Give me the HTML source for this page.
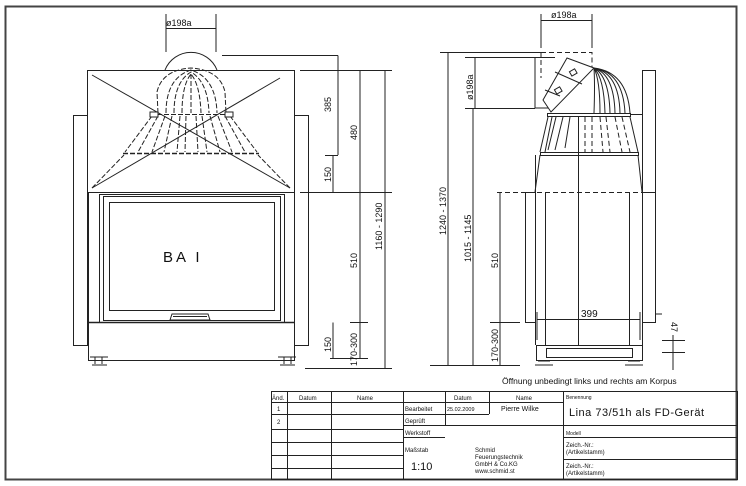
<!DOCTYPE html>
<html><head><meta charset="utf-8"><style>
html,body{margin:0;padding:0;background:#fff;}
svg{display:block;font-family:"Liberation Sans",sans-serif;}
.t{font-size:9px;fill:#111;}
.s{font-size:6px;fill:#111;}
</style></head><body>
<svg width="746" height="486" viewBox="0 0 746 486" xmlns="http://www.w3.org/2000/svg">
<g fill="none" stroke="#222" stroke-width="1">
<rect x="5.5" y="6.5" width="731" height="473" stroke-width="2" stroke="#444"/>

<!-- FRONT VIEW -->
<rect x="87.5" y="70.5" width="207" height="122"/>
<rect x="73.5" y="115.5" width="14" height="230"/>
<rect x="294.5" y="115.5" width="14" height="230"/>
<rect x="88.5" y="192.5" width="206" height="168"/>
<rect x="99.5" y="194.5" width="185" height="128"/>
<rect x="103.5" y="196.5" width="177" height="124"/>
<rect x="109.5" y="202.5" width="165" height="108"/>
<line x1="88" y1="322.5" x2="294" y2="322.5" stroke-width="1.5"/>
<path d="M170 320 L172 314 L208 314 L210 320 Z"/>
<line x1="173" y1="316.5" x2="207" y2="316.5"/>
<path d="M90 357h18M95 357v7M102 357v7M92 365h15M278 357h18M284 357v7M291 357v7M280 365h15"/>
<line x1="92" y1="75" x2="290" y2="188"/>
<line x1="92" y1="188" x2="280" y2="78"/>
<path d="M165 70 A28 28 0 0 1 217 70"/>
<g stroke-dasharray="5,2">
<path d="M158 113 L157 92 Q162 70 191 68 Q220 70 225 92 L226 113"/>
<path d="M166 113 Q166 78 191 70 Q216 78 217 113"/>
<path d="M174 113 Q174 82 191 72 Q208 82 209 113"/>
<path d="M182 113 Q182 85 191 74 Q200 85 201 113"/>
<line x1="191" y1="74" x2="191" y2="113"/>
<line x1="150" y1="114.5" x2="233" y2="114.5"/>
<line x1="123" y1="153.5" x2="259" y2="153.5" stroke-width="1.5"/>
<path d="M152 116 L125 152M158 116 L138 152M165 116 L152 152M172 116 L164 152M180 116 L177 152M186 116 L185 152M196 116 L198 152M202 116 L207 152M210 116 L220 152M218 116 L232 152M225 116 L245 152M230 116 L257 152"/>
<path d="M92 188 L124 155M290 188 L258 155"/>
</g>
<rect x="150" y="112" width="8" height="5" fill="#fff"/>
<rect x="225" y="112" width="8" height="5" fill="#fff"/>
<path d="M166 52V14M216 52V14M166 28.5H216"/>
<path d="M222 55.5H338M338 55.5V155M325 155.5H338M333 155V192M300 192.5H392M360 70V358M300 70.5H392M385 70V368M330 358.5H368M305 368.5H392M333 322.5V358M350 322.5H368"/>

<!-- SIDE VIEW -->
<path d="M541 52.5H592V68" stroke-dasharray="5,3"/>
<path d="M541 52V78" stroke-dasharray="5,3"/>
<path d="M520 57.5H555M535 57.5V108H550M520 108.5H535"/>
<path d="M567 58 L594 68 L551 112 L543 100 Z" fill="#fff"/>
<path d="M555 72 L582 84 M545 90 L560 96"/>
<rect x="570" y="70" width="6" height="5" transform="rotate(-30 573 72)"/>
<rect x="555" y="88" width="6" height="5" transform="rotate(-30 558 90)"/>
<path d="M594 68 Q627 72 630 113M594 68 Q623 72 625 113M594 68 Q619 73 620 113M594 68 Q614 74 615 113M594 68 Q609 76 610 113M594 68 Q604 78 605 113M594 68 Q600 80 600 113M594 68 Q595 85 594 113"/>
<rect x="547.5" y="113.5" width="83" height="3" fill="#fff"/>
<path d="M630 114.5H642"/>
<rect x="540.5" y="152.5" width="98" height="3"/>
<path d="M548 117 L540 152M630 117 L638 152M552 117 L545 152M556 117 L548 150M563 117 L555 150M570 117 L565 148"/>
<g stroke-dasharray="5,3"><path d="M585 117V152M592 117V152M600 117L603 152M606 117L610 152M615 117L622 152M622 117L630 152M497 192.5H642"/></g>
<path d="M540 155 L535 192M638 155 L642 192"/>
<rect x="642.5" y="70.5" width="13" height="122"/>
<rect x="525.5" y="192.5" width="10" height="130"/>
<path d="M535.5 155V345M545.5 192V345M578.5 117V345M629.5 192V345M642.5 192V345"/>
<rect x="642.5" y="192.5" width="13" height="130"/>
<path d="M656 314h6"/>
<rect x="536.5" y="345.5" width="106" height="15"/>
<rect x="546.5" y="348.5" width="86" height="9"/>
<path d="M538 361h12M535 365h18M628 361h12M625 365h18"/>
<path d="M541 48V14M592 48V14M541 20.5H592"/>
<path d="M440 52.5H541M448 52V365M430 365.5H520M473 108V365M465 108.5H535M475 57V108M465 57.5H530M500 192V365M490 322.5H520M537 312V340M640 312V340M537 319.5H640M673 335V370M662 352.5H685M662 340.5H685"/>

<rect x="271.5" y="391.5" width="466" height="88"/>
<path d="M287.5 391V480M331.5 391V480M403.5 391V480M445.5 391V425M489.5 391V414M563.5 391V480M271 402.5H563M271 414.5H403M271 429.5H403M271 442.5H403M271 455.5H403M271 468.5H403M403 414.5H489M403 425.5H738M403 437.5H445M563 437.5H738M563 459.5H738"/>
</g>
<g class="t">
<text x="166" y="26" font-size="9">ø198a</text>
<text x="551" y="18" font-size="9">ø198a</text>
<text x="163" y="262" font-size="15" letter-spacing="3">BA I</text>
<text x="581" y="317" font-size="10">399</text>
<text x="502" y="384" font-size="8.5">Öffnung unbedingt links und rechts am Korpus</text>
<g font-size="9">
<text transform="translate(331 112) rotate(-90)">385</text>
<text transform="translate(357 140) rotate(-90)">480</text>
<text transform="translate(331 182) rotate(-90)">150</text>
<text transform="translate(357 268) rotate(-90)">510</text>
<text transform="translate(331 352) rotate(-90)">150</text>
<text transform="translate(357 366) rotate(-90)">170-300</text>
<text transform="translate(382 250) rotate(-90)">1160 - 1290</text>
<text transform="translate(446 235) rotate(-90)">1240 - 1370</text>
<text transform="translate(471 262) rotate(-90)">1015 - 1145</text>
<text transform="translate(473 100) rotate(-90)">ø198a</text>
<text transform="translate(498 268) rotate(-90)">510</text>
<text transform="translate(498 362) rotate(-90)">170-300</text>
<text transform="translate(671 322) rotate(90)">47</text>
</g>
</g>
<g class="s">
<text x="272" y="400">Änd.</text><text x="299" y="400">Datum</text><text x="357" y="400">Name</text>
<text x="454" y="400">Datum</text><text x="516" y="400">Name</text><text x="566" y="399" font-size="5">Benennung</text>
<text x="277" y="411">1</text><text x="277" y="424">2</text>
<text x="405" y="411">Bearbeitet</text><text x="447" y="411" font-size="5.5">25.02.2009</text><text x="501" y="411" font-size="7">Pierre Wilke</text>
<text x="405" y="423">Geprüft</text><text x="405" y="435">Werkstoff</text><text x="566" y="435" font-size="5">Modell</text>
<text x="405" y="452">Maßstab</text>
<text x="411" y="470" font-size="11">1:10</text>
<text x="475" y="452">Schmid</text><text x="475" y="459">Feuerungstechnik</text><text x="475" y="466">GmbH &amp; Co.KG</text><text x="475" y="473">www.schmid.st</text>
<text x="566" y="447">Zeich.-Nr.:</text><text x="566" y="454">(Artikelstamm)</text>
<text x="566" y="468">Zeich.-Nr.:</text><text x="566" y="475">(Artikelstamm)</text>
<text x="569" y="416" font-size="11" letter-spacing="0.5">Lina 73/51h als FD-Gerät</text>
</g>
</svg>
</body></html>
